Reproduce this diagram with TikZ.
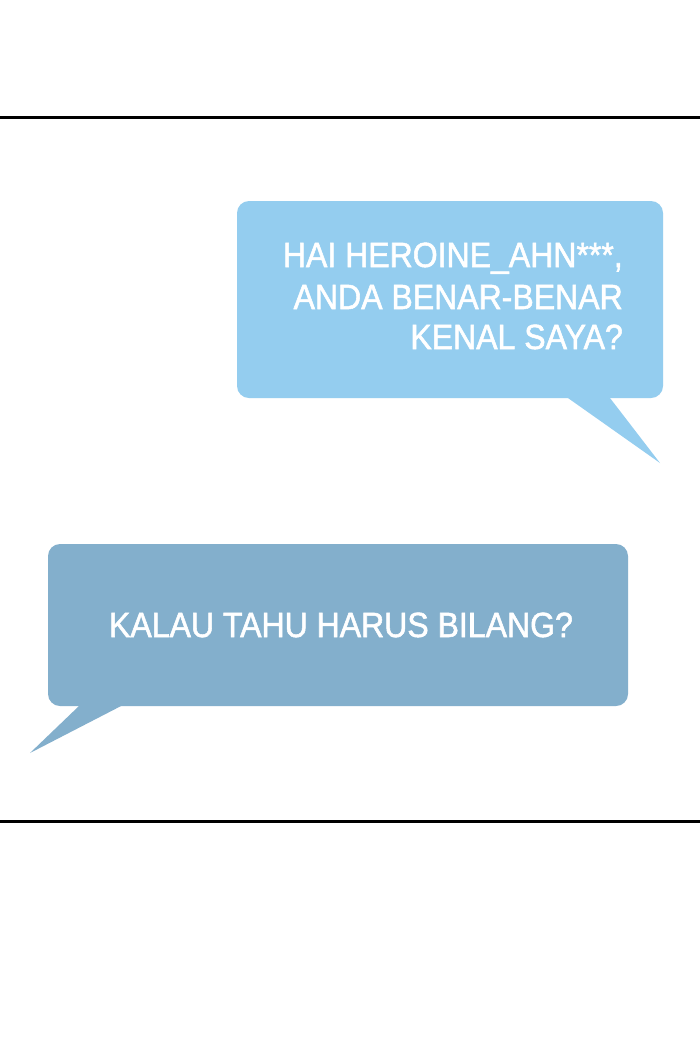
\documentclass[tikz,border=0pt]{standalone}
\usepackage{fontspec}
\setmainfont{Liberation Sans}
\newfontfamily\bubblefont[FakeStretch=0.915,FakeBold=1.5]{Liberation Sans}
\definecolor{bubbleA}{RGB}{148,205,239}
\definecolor{bubbleB}{RGB}{131,175,204}
\begin{document}
\begin{tikzpicture}[x=1pt,y=-1pt,
  rulestyle/.style={line width=3pt, black},
  says/.style={font=\bubblefont\fontsize{35}{41}\selectfont, text=white, inner sep=0pt}]
\useasboundingbox[fill=white] (0,0) rectangle (700,1053);
% panel rules
\coordinate (r1a) at (0,117.5);
\coordinate (r1b) at (700,117.5);
\coordinate (r2a) at (0,821);
\coordinate (r2b) at (700,821);
\draw[rulestyle] (r1a) -- (r1b);
\draw[rulestyle] (r2a) -- (r2b);
% top bubble
\fill[bubbleA, rounded corners=12pt] (237,201) rectangle (663,398);
\fill[bubbleA] (562.3,394) -- (606.9,394) -- (660,463) -- cycle;
\node[says, anchor=base east] (l1) at (623,267) {HAI HEROINE\_AHN***,};
\node[says, anchor=base east] (l2) at (623,309) {ANDA BENAR-BENAR};
\node[says, anchor=base east] (l3) at (623,349) {KENAL SAYA?};
% bottom bubble
\fill[bubbleB, rounded corners=12pt] (48,544) rectangle (628,706);
\fill[bubbleB] (84.2,701) -- (130.75,701) -- (30,753) -- cycle;
\node[says, anchor=base] (l4) at (341,637) {KALAU TAHU HARUS BILANG?};
\end{tikzpicture}
\end{document}
